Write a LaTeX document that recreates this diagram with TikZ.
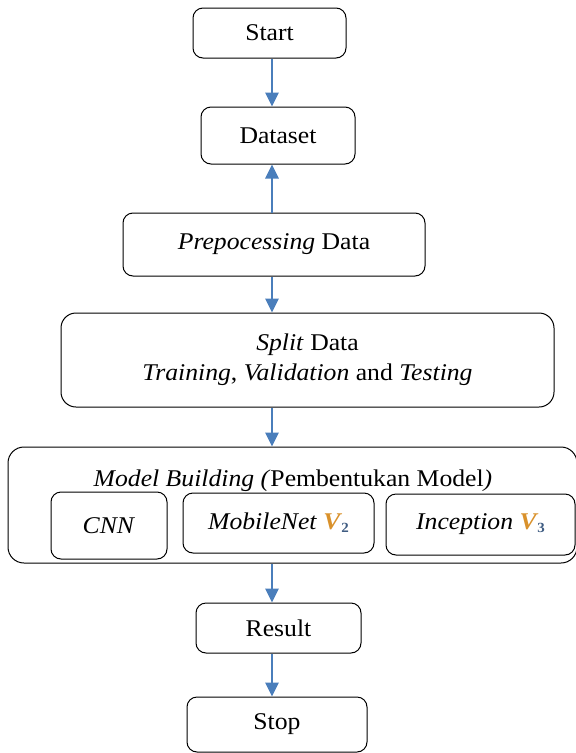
\documentclass[tikz,border=0pt]{standalone}
\usepackage{fontspec}
\setmainfont{Liberation Serif}[FakeStretch=1.07]
\usepackage{tikz}
\usetikzlibrary{arrows.meta}
\definecolor{arrowblue}{HTML}{4A7EBB}
\definecolor{vorange}{HTML}{D9912B}
\definecolor{vsub}{HTML}{3F5C82}
\newcommand{\vsym}[1]{\textcolor{vorange}{\textbf{\textit{V}}}\kern-1pt\raisebox{-3pt}{\textcolor{vsub}{\fontsize{14}{14}\selectfont\bfseries #1}}}

\begin{document}
\begin{tikzpicture}[x=1pt, y=-1pt,
    box/.style={draw, line width=1pt, rounded corners=10pt, align=center,
        inner sep=0pt, font=\fontsize{24}{30}\selectfont},
    arr/.style={draw=arrowblue, line width=2.6pt,
        -{Triangle[width=13pt,length=14pt]}, arrowblue}]
    \useasboundingbox (0,0) rectangle (576,753);
    \node[box, minimum width=153pt, minimum height=50pt] (start) at (269.5,33) {Start};
    \node[box, minimum width=154pt, minimum height=57pt] (dataset) at (278,135.5) {Dataset};
    \node[box, minimum width=302pt, minimum height=63pt] (prep) at (274,244.5) {\textit{Prepocessing} Data};
    \node[box, minimum width=493pt, minimum height=94pt, rounded corners=15pt] (split) at (307.5,360)
        {\textit{Split} Data\\ \textit{Training}, \textit{Validation} and \textit{Testing}};
    \node[box, minimum width=569pt, minimum height=116pt, rounded corners=16pt] (model) at (292.5,505) {};
    \node[font=\fontsize{24}{26}\selectfont, inner sep=0pt, anchor=base] (mtitle) at (293,486)
        {\textit{Model Building (}Pembentukan Model\textit{)}};
    \node[box, minimum width=116pt, minimum height=67pt] (cnn) at (109,525.5) {\textit{CNN}};
    \node[box, minimum width=191pt, minimum height=60pt] (mobile) at (278.5,523) {\textit{MobileNet} \vsym{2}};
    \node[box, minimum width=189pt, minimum height=61pt] (incep) at (480.5,524.5) {\textit{Inception} \vsym{3}};
    \node[box, minimum width=165pt, minimum height=50pt] (result) at (278.5,628) {Result};
    \node[box, minimum width=180pt, minimum height=55pt] (stop) at (277,724.5) {Stop};
    \coordinate (ax) at (272,0);
    \draw[arr] (start.south -| ax) -- (dataset.north -| ax);
    \draw[arr] (prep.north -| ax) -- (dataset.south -| ax);
    \draw[arr] (prep.south -| ax) -- (split.north -| ax);
    \draw[arr] (split.south -| ax) -- (model.north -| ax);
    \draw[arr] (model.south -| ax) -- (result.north -| ax);
    \draw[arr] (result.south -| ax) -- (stop.north -| ax);
\end{tikzpicture}
\end{document}
